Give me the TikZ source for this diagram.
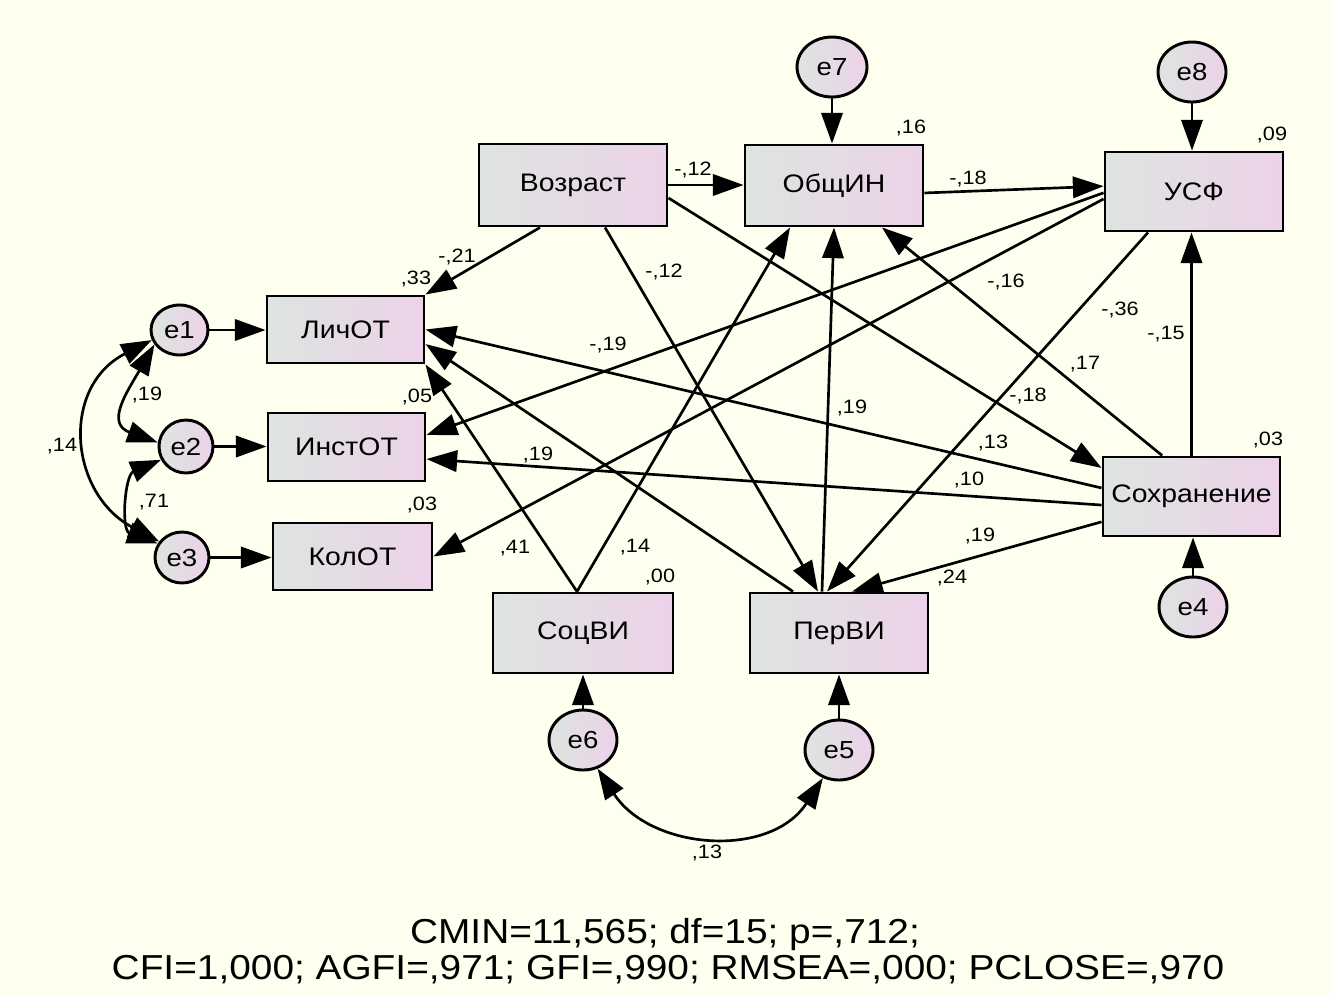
\documentclass[tikz,border=0pt]{standalone}
\usepackage{fontspec}
\setmainfont{Liberation Sans}[FakeStretch=1.12]
\usetikzlibrary{arrows.meta,shapes.geometric,calc}
\definecolor{bgc}{RGB}{255,255,239}
\definecolor{fillL}{RGB}{222,228,224}
\definecolor{fillR}{RGB}{236,210,233}
\tikzset{
  var/.style={draw=black, line width=2.2pt, rectangle, left color=fillL, right color=fillR, inner sep=0pt, font=\fontsize{19}{22}\selectfont},
  err/.style={draw=black, line width=2.2pt, ellipse, left color=fillL, right color=fillR, inner sep=0pt, font=\fontsize{18.5}{21}\selectfont},
  conn/.style={line width=2pt, -{Triangle[length=23pt,width=16pt]}},
  cov/.style={line width=2pt, {Triangle[length=23pt,width=16pt]}-{Triangle[length=23pt,width=16pt]}},
  lab/.style={anchor=base, inner sep=0pt, font=\fontsize{14.5}{16}\selectfont},
  fit/.style={anchor=base, inner sep=0pt, font=\fontsize{26}{30}\selectfont},
}
\begin{document}
\begin{tikzpicture}[x=0.75pt,y=0.75pt]
\fill[bgc] (0,0) rectangle (1333,-996);
\useasboundingbox (0,0) rectangle (1333,-996);

% observed variables
\node[var, minimum width=141pt,   minimum height=61.5pt]  (voz)  at (573,-185)   {Возраст};
\node[var, minimum width=133.5pt, minimum height=60.75pt] (obsh) at (834,-185.5) {ОбщИН};
\node[var, minimum width=133.5pt, minimum height=59.25pt] (usf)  at (1194,-191.5) {УСФ};
\node[var, minimum width=117.75pt,minimum height=50.25pt] (lich) at (345.5,-329.5) {ЛичОТ};
\node[var, minimum width=117.75pt,minimum height=51pt]    (inst) at (346.5,-447) {ИнстОТ};
\node[var, minimum width=119.25pt,minimum height=50.25pt] (kol)  at (352.5,-556.5) {КолОТ};
\node[var, minimum width=135pt,   minimum height=60pt]    (soc)  at (583,-633)   {СоцВИ};
\node[var, minimum width=133.5pt, minimum height=60pt]    (per)  at (839,-633)   {ПерВИ};
\node[var, minimum width=132.75pt,minimum height=59.25pt] (sohr) at (1191.5,-496.5) {Сохранение};

% errors
\node[err, minimum width=42.75pt, minimum height=37.5pt]  (e1) at (179.5,-330) {e1};
\node[err, minimum width=40.5pt,  minimum height=39.75pt] (e2) at (186,-446.5) {e2};
\node[err, minimum width=40.5pt,  minimum height=38.25pt] (e3) at (182,-557.5) {e3};
\node[err, minimum width=51pt, minimum height=45pt] (e4) at (1193,-607) {e4};
\node[err, minimum width=51pt, minimum height=45pt] (e5) at (839,-750) {e5};
\node[err, minimum width=51pt, minimum height=45pt] (e6) at (583,-740) {e6};
\node[err, minimum width=52.5pt, minimum height=45pt] (e7) at (832,-67) {e7};
\node[err, minimum width=51pt, minimum height=45pt] (e8) at (1192,-72) {e8};

% error paths
\draw[conn] (e1.east) -- (e1.east -| lich.west);
\draw[conn] (e2.east) -- (e2.east -| inst.west);
\draw[conn] (e3.east) -- (e3.east -| kol.west);
\draw[conn] (e7.south) -- (e7.south |- obsh.north);
\draw[conn] (e8.south) -- (e8.south |- usf.north);
\draw[conn] (e4.north) -- (e4.north |- sohr.south);
\draw[conn] (e5.north) -- (e5.north |- per.south);
\draw[conn] (e6.north) -- (e6.north |- soc.south);

% structural paths
\draw[conn] (voz.east) -- (voz.east -| obsh.west);
\draw[conn] ([xshift=-24.75pt]voz.south) -- (lich.north east);
\draw[conn] ([xshift=24pt]voz.south) -- ([xshift=-15.75pt]per.north);
\draw[conn] ([yshift=-9.75pt]voz.east) -- ([yshift=21.4pt]sohr.west);
\draw[conn] ([yshift=-5.6pt]obsh.east) -- ([yshift=4pt]usf.west);
\draw[conn] ([yshift=-1pt]usf.west) -- ([yshift=9pt]inst.east);
\draw[conn] ([yshift=-5.6pt]usf.west) -- (kol.east);
\draw[conn] ([xshift=-34.5pt]usf.south) -- ([xshift=-9pt]per.north);
\draw[conn] (sohr.north) -- (sohr.north |- usf.south);
\draw[conn] ([xshift=-22pt]sohr.north) -- ([xshift=36pt]obsh.south);
\draw[conn] ([yshift=6.4pt]sohr.west) -- (lich.east);
\draw[conn] ([yshift=-6.4pt]sohr.west) -- ([yshift=-9pt]inst.east);
\draw[conn] ([yshift=-19pt]sohr.west) -- ([xshift=9.75pt]per.north);
\draw[conn] ([xshift=-4.5pt]soc.north) -- (lich.south east);
\draw[conn] ([xshift=-4.5pt]soc.north) -- ([xshift=-33pt]obsh.south);
\draw[conn] ([xshift=-34.5pt]per.north) -- ([yshift=-10.9pt]lich.east);
\draw[conn] ([xshift=-12.75pt]per.north) -- (obsh.south);

% covariances
\draw[cov] (e1.210) to[out=240,in=160,looseness=1.45] (e2.172);
\draw[cov] (e2.208) to[out=203,in=160,looseness=1.2] (e3.150);
\draw[cov] (e1.200) to[out=207,in=152,looseness=1.3] (e3.145);
\draw[cov] (e6.-63) to[out=-57,in=237,looseness=1.1] (e5.-120);

% labels
\node[lab] (l1)  at (693,-175) {-,12};
\node[lab] (l2)  at (664,-277) {-,12};
\node[lab] (l3)  at (457,-262) {-,21};
\node[lab] (l4)  at (416,-284) {,33};
\node[lab] (l5)  at (911,-133) {,16};
\node[lab] (l6)  at (1272,-140) {,09};
\node[lab] (l7)  at (968,-184) {-,18};
\node[lab] (l8)  at (1006,-287) {-,16};
\node[lab] (l9)  at (1120,-315) {-,36};
\node[lab] (l10) at (1166,-339) {-,15};
\node[lab] (l11) at (1085,-369) {,17};
\node[lab] (l12) at (1028,-401) {-,18};
\node[lab] (l13) at (852,-413) {,19};
\node[lab] (l14) at (993,-448) {,13};
\node[lab] (l15) at (1268,-445) {,03};
\node[lab] (l16) at (969,-485) {,10};
\node[lab] (l17) at (980,-541) {,19};
\node[lab] (l18) at (952,-583) {,24};
\node[lab] (l19) at (608,-350) {-,19};
\node[lab] (l20) at (417,-402) {,05};
\node[lab] (l21) at (538,-460) {,19};
\node[lab] (l22) at (422,-510) {,03};
\node[lab] (l23) at (515,-553) {,41};
\node[lab] (l24) at (635,-552) {,14};
\node[lab] (l25) at (660,-582) {,00};
\node[lab] (l26) at (147,-400) {,19};
\node[lab] (l27) at (154,-507) {,71};
\node[lab] (l28) at (62,-451) {,14};
\node[lab] (l29) at (707,-858) {,13};

% fit indices
\node[fit] (f1) at (665,-943) {CMIN=11,565; df=15; p=,712;};
\node[fit] (f2) at (668,-979) {CFI=1,000; AGFI=,971; GFI=,990; RMSEA=,000; PCLOSE=,970};
\end{tikzpicture}
\end{document}
